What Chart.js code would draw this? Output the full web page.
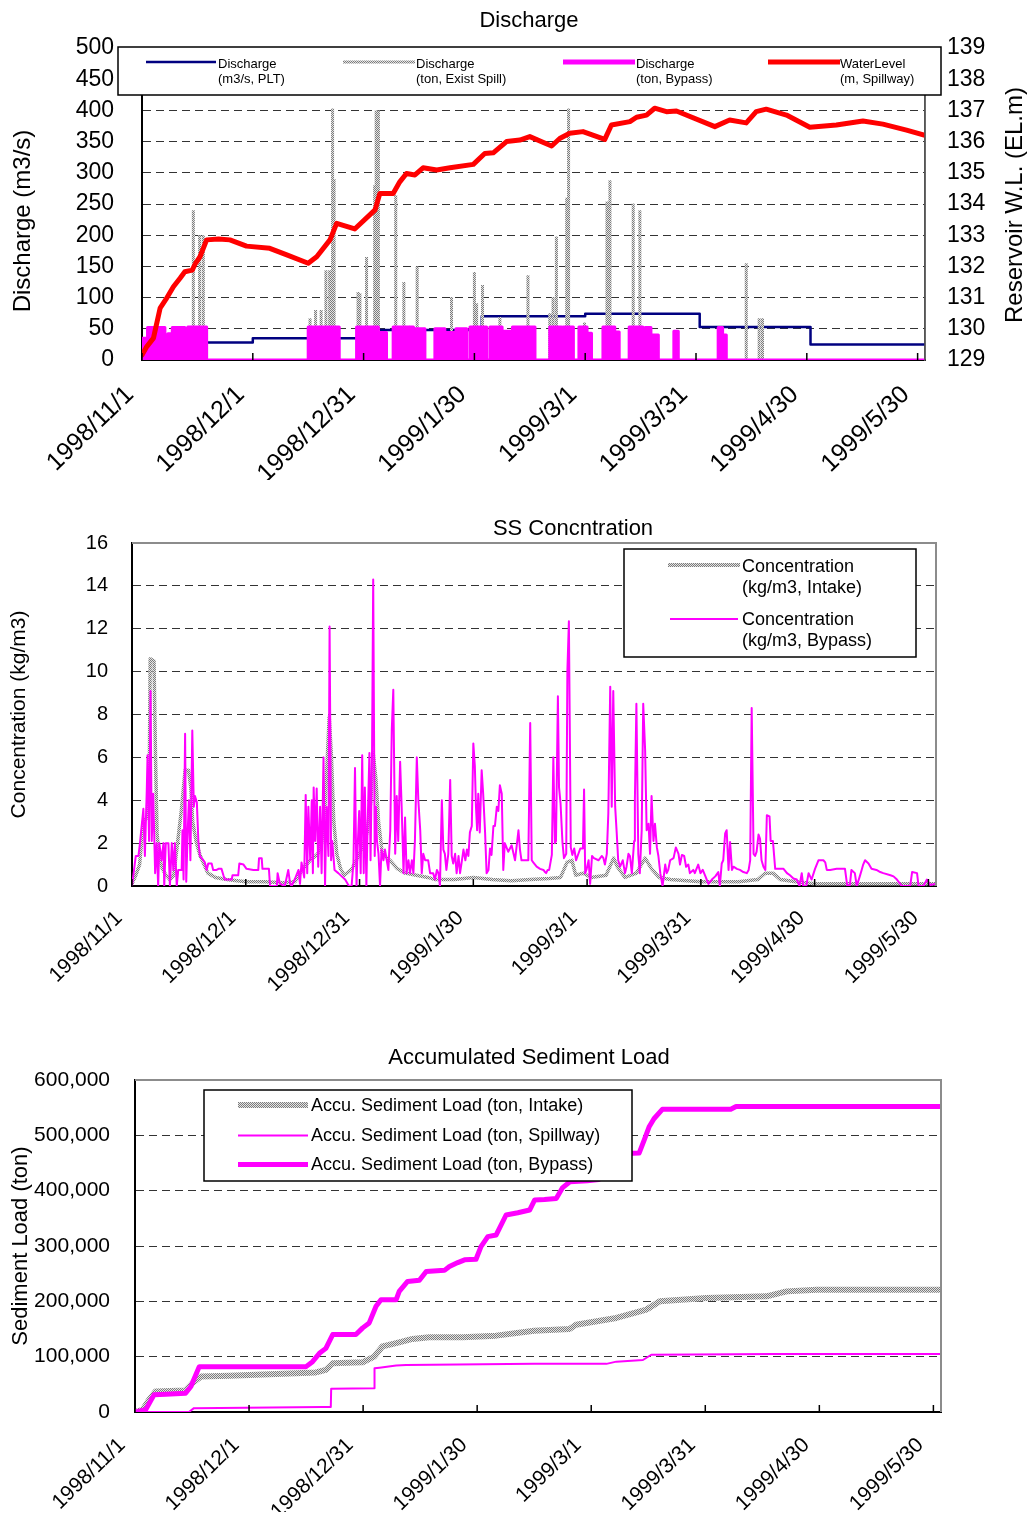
<!DOCTYPE html>
<html>
<head>
<meta charset="utf-8">
<title>Discharge / SS Concntration / Accumulated Sediment Load</title>
<script src="https://cdn.jsdelivr.net/npm/chart.js@4.4.1/dist/chart.umd.min.js"></script>
<style>
  html, body { margin: 0; padding: 0; background: #fff; }
  #page { position: relative; width: 1031px; height: 1526px; overflow: hidden; }
  #page canvas { position: absolute; left: 0; }
</style>
</head>
<body>
<div id="page">
  <canvas id="discharge" width="1031" height="500" style="top:0px"></canvas>
  <canvas id="concentration" width="1031" height="520" style="top:500px"></canvas>
  <canvas id="sediment" width="1031" height="506" style="top:1020px"></canvas>
</div>
<script>
// date axis is counted in days since 1998/11/1
const tickDays = [0, 30, 60, 90, 120, 150, 180, 210];
const tickLabels = ['1998/11/1', '1998/12/1', '1998/12/31', '1999/1/30', '1999/3/1', '1999/3/31', '1999/4/30', '1999/5/30'];
const lastDay = 212;

// --- Discharge panel: [day, value] ---
const pltFlow = [[0,28],[30,28],[30,35],[62,35],[62,48],[92,48],[92,70],[120,70],[120,74],[151,74],[151,53],[181,53],[181,25],[212,25]];
const spillFlow = [[13.9,240],[15.6,200],[16.6,200],[45.5,67],[47,80],[48.5,80],[49.8,144],[50.8,144],[51.6,403],[52.0,290],
  [58.5,109],[59,107],[60.8,165],[63.0,280],[63.4,400],[64.0,400],[68.7,264],[70.9,125],[74.5,150],[83.8,101],[90,141],[90.6,91],
  [92.2,120],[96.9,69],[104.5,136],[110.4,75],[111.3,101],[112.2,198],[115,260],[115.5,403],[119.8,60],[125.9,254],[126.7,288],
  [133,251],[134.8,240],[163.6,155],[167.1,67],[168,67]];
// bypass operation periods: [start day, end day, discharge]
const bypassRuns = [[0,1.5,35],[1.5,6.2,52],[7,8.2,42],[8.2,11.6,52],[12.4,17.5,53],[45,53.4,53],[58.1,64,53],[64,66.2,44],
  [68,72.3,53],[72.5,73.5,53],[74,76.6,50],[79.3,82,50],[82,85,44],[85,87.9,50],[88.8,93.3,53],[94.2,97.5,53],[97.5,100,46],
  [100.3,106.4,53],[110.4,113.6,53],[114,116.8,53],[118.3,120.5,53],[120.5,121.7,43],[124.8,128,53],[128,129.2,45],
  [131.9,135.6,53],[136.2,137.8,52],[137.8,139.8,40],[144,145.2,46],[156,157.2,52],[157.2,158.2,40]];
const waterLevel = [[0,129.16],[1.3,129.43],[3.1,129.7],[4.9,130.66],[6.5,130.95],[8.5,131.35],[10.3,131.62],[11.6,131.83],
  [13.6,131.88],[14.5,132.1],[15.7,132.31],[17.5,132.85],[20.7,132.88],[23.8,132.85],[28.3,132.65],[34.6,132.58],[39.2,132.37],
  [45,132.1],[47.3,132.31],[50.9,132.85],[52.7,133.38],[57.6,133.2],[63.1,133.81],[64.4,134.34],[68,134.34],[69.8,134.71],
  [71.6,134.98],[73.9,134.93],[76.1,135.16],[79.8,135.09],[83.4,135.16],[89.7,135.27],[92.8,135.62],[95.1,135.64],[98.7,136.0],
  [102.3,136.05],[105,136.16],[110.9,135.86],[113.1,136.1],[115.8,136.27],[119.4,136.32],[125.3,136.07],[127.1,136.53],
  [132.1,136.64],[133.9,136.78],[136.6,136.85],[138.8,137.07],[142,136.96],[144.7,136.98],[155.1,136.48],[159.1,136.69],
  [163.6,136.6],[166.3,136.96],[169,137.04],[174.5,136.85],[180.8,136.46],[188,136.53],[195.2,136.66],[200.6,136.56],
  [207,136.37],[212,136.2]];

// --- SS concentration panel: [day, kg/m3] ---
const concIntake = [[0,0.1],[1,0.5],[2,1],[3,3],[4,3.2],[4.6,6],[4.8,10.6],[5.8,10.5],[6.2,6],[6.6,2.5],[7,1.5],[8,0.8],[9,0.5],
  [10,0.3],[11,0.5],[12,2],[13,3.5],[14,5.4],[14.9,5.4],[15.5,4.6],[16,3],[17,2],[18,1.4],[19,1],[20,0.6],[22,0.4],[25,0.3],
  [30,0.2],[35,0.2],[40,0.15],[43,0.2],[45,0.8],[47,1.2],[49,1.5],[50,2],[51,4],[52,7.9],[52.6,6],[53.2,3],[54,1.5],[55,0.8],
  [56,0.5],[58,0.8],[60,1.5],[62,2.5],[63,4],[63.6,6.2],[64.3,5],[65,3],[66,1.5],[68,1.2],[70,0.8],[72,0.6],[75,0.5],[78,0.4],
  [80,0.3],[85,0.3],[90,0.4],[95,0.3],[100,0.25],[105,0.3],[110,0.35],[113,0.4],[114.7,1.1],[116,1.2],[117,0.5],[119,0.6],
  [121,0.4],[125,0.5],[127,1.3],[128,0.9],[130,0.4],[133,0.6],[135.3,1.3],[137,0.8],[139,0.4],[142,0.3],[150,0.2],[160,0.2],
  [165,0.3],[167,0.6],[169,0.6],[171,0.3],[175,0.2],[180,0.1],[190,0.1],[200,0.1],[212,0.1]];
const concBypass = [[0,0],[0.2,0],[1.0,1.4],[1.7,1.4],[2.1,2.0],[3.0,3.6],[3.4,1.4],[3.9,4.5],[4.1,6.1],[4.5,2.1],[4.9,9.1],
  [5.2,2.1],[5.6,4.3],[6.1,0.6],[6.5,2.0],[6.9,0],[7.2,2.0],[7.8,1.2],[8.3,2.0],[8.5,0],[8.9,2.0],[9.6,2.0],[10,0],[10.5,2.0],
  [10.9,0.75],[11.3,2.0],[11.8,0],[12.2,0.75],[13.1,0.75],[13.3,2.6],[13.6,0.3],[14.0,7.1],[14.3,0.2],[14.7,2.6],[15.0,4.0],
  [15.4,1.2],[15.9,7.25],[16.3,3.7],[16.6,4.2],[17.1,3.9],[17.5,2.1],[17.9,1.4],[18.4,1.3],[19.2,1.1],[19.7,0.75],[20.1,1.05],
  [21,1.05],[21.4,0.75],[22.3,0.75],[22.8,0.8],[23.6,0.8],[24.1,0.5],[24.5,0.3],[26.3,0.3],[26.5,0.5],[28,0.5],[28.3,1.05],
  [29.4,1.0],[30.2,0.8],[32,0.75],[33.3,0.75],[33.5,1.3],[34.2,1.3],[34.4,0.8],[36.1,0.8],[36.4,0],[38.2,0],[38.4,0.6],[39,0.1],
  [40.3,0],[41.2,0.75],[41.7,0.1],[42.1,0],[43,0.35],[43.9,0.75],[44.3,0.1],[44.7,1.1],[45.4,0.4],[45.8,4.25],[46.2,0.6],
  [46.5,3.7],[47,1.2],[47.4,4.0],[47.7,0.6],[47.9,4.6],[48.3,2.1],[48.7,4.55],[49.1,0.9],[49.6,3.7],[50,0.6],[50.5,6.0],[50.9,0],
  [51.3,3.7],[51.8,1.4],[52.1,12.1],[52.5,1.2],[52.8,2.1],[53.4,0.75],[54.4,0.6],[55.3,0.45],[56.2,0.3],[57.2,0],[57.9,0],
  [58.4,1.1],[58.8,5.5],[59.2,0],[59.5,1.8],[59.9,3.5],[60.3,0.6],[60.7,6.1],[61.1,0.6],[61.4,4.6],[61.8,0],[62.1,2.6],[62.6,6.2],
  [62.9,1.2],[63.3,6.35],[63.6,14.3],[64,1.4],[64.3,3.7],[64.6,2.1],[65,1.5],[65.4,0],[65.8,1.7],[66.3,1.2],[66.7,1.7],[67.6,0.75],
  [68.1,2.6],[68.5,7.3],[68.9,9.15],[69.4,1.5],[69.8,4.2],[70.2,2.1],[70.7,5.8],[71.1,3.7],[71.6,0.6],[72,3.2],[72.4,0.6],
  [72.9,1.2],[73.3,0.6],[73.8,1.2],[74.2,0.6],[74.6,2.1],[75.1,6.0],[75.5,4.0],[76,2.6],[76.4,0.6],[76.8,1.5],[77.3,1.2],
  [78.1,1.2],[78.6,0.6],[79.4,0.6],[79.9,0.3],[80.4,0.75],[80.8,0.6],[81.2,0],[81.7,4.0],[82.1,1.7],[82.5,1.5],[82.9,0.75],
  [83.4,1.5],[83.9,4.95],[84.3,1.4],[84.7,1.05],[85.2,1.5],[85.6,0.6],[86.1,1.4],[86.5,0.6],[87,1.2],[87.4,1.7],[87.9,1.2],
  [88.3,1.7],[88.7,1.4],[89.1,2.5],[89.6,2.8],[90,6.65],[90.4,5.6],[90.7,3.7],[91,2.6],[91.3,4.3],[91.7,2.5],[92.2,5.4],
  [92.6,4.3],[93.1,2.5],[93.5,0.6],[94,0.75],[94.4,1.75],[94.8,1.45],[95.3,2.8],[95.7,2.8],[96.2,3.7],[96.6,3.5],[97,4.7],
  [97.5,4.3],[97.9,0.75],[98.3,2.0],[99.2,1.6],[100.1,1.9],[101,1.2],[101.9,2.6],[102.3,1.7],[102.7,1.2],[103.6,1.2],[104.5,1.2],
  [105,7.6],[105.4,1.2],[105.8,1.1],[106.7,0.9],[107.6,0.8],[108.5,0.75],[108.9,0.65],[109.2,0.6],[109.6,0.75],[110,0.75],
  [110.7,1.45],[111.1,6.0],[111.5,2.0],[111.8,2.1],[112.3,8.85],[112.6,4.6],[113,3.85],[113.5,2.05],[113.9,1.3],[114.5,1.5],
  [114.8,10.0],[115.2,12.35],[115.7,1.8],[116.1,1.45],[116.6,1.75],[117.1,1.2],[118.2,1.75],[118.9,1.75],[119.2,4.5],[119.5,0.6],
  [119.9,0.8],[120.4,1.2],[120.8,0.1],[121.3,1.4],[121.8,1.3],[123,1.2],[123.9,1.4],[124.3,1.3],[124.7,1.0],[125.2,1.5],
  [125.6,3.4],[126.1,9.3],[126.5,3.7],[126.9,9.1],[127.4,3.7],[127.8,2.5],[128.2,1.2],[128.7,0.9],[129.4,1.2],[130,0.6],
  [130.4,0.9],[130.9,1.5],[131.3,1.4],[131.8,0.6],[132.4,2.1],[132.6,4.0],[133,8.5],[133.5,1.5],[133.9,0.6],[134.4,2.6],
  [134.8,8.5],[135.3,6.35],[135.7,2.6],[136.2,2.9],[136.6,1.5],[137,4.2],[137.5,2.1],[137.9,2.9],[138.4,1.8],[138.8,1.4],
  [139.3,0.6],[139.9,0],[140.6,1.0],[141,0.6],[141.4,0.75],[141.9,1.2],[142.8,1.3],[143.4,1.8],[144.1,1.5],[144.5,1.0],
  [145,1.45],[145.6,1.4],[146.1,0.9],[146.7,1.0],[147.1,0.6],[148,0.75],[148.4,0.6],[149.3,1.0],[149.9,0.6],[150.5,0.75],
  [151.1,0.5],[152,0.1],[152.9,0.3],[153.8,0.45],[154.6,0.65],[155,0],[155.5,1.05],[155.9,1.2],[156.4,2.45],[156.8,2.6],
  [157.3,0.75],[157.7,2.05],[158.2,0.75],[158.6,0.9],[159.5,0.8],[160.3,0.75],[161.2,0.65],[162.1,0.6],[162.6,0.75],[163,1.2],
  [163.4,8.3],[163.9,1.5],[164.3,1.4],[164.7,1.6],[165.2,2.4],[165.6,2.2],[166,1.2],[166.5,0.9],[167,0.75],[167.4,3.3],
  [168.1,3.25],[168.4,2.1],[169,2.1],[169.6,0.8],[170.5,0.8],[171.8,0.8],[172.7,0.6],[173.5,0.5],[174.4,0.35],[175.3,0.3],
  [176,0],[176.6,0.6],[177,0],[177.8,0],[178.4,0.6],[179.2,0.3],[180.1,0.8],[181,1.2],[182.3,1.2],[182.8,1.1],[183.2,0.75],
  [184.1,0.75],[185.8,0.8],[188,0.8],[188.6,0],[189.3,0.05],[189.7,0.75],[190.6,0.6],[191.1,0],[191.9,0.45],[192.4,0.75],
  [192.8,1.0],[193.3,1.2],[194.2,1.05],[195,0.8],[196.3,0.75],[197.3,0.65],[198.1,0.6],[200,0.5],[200.8,0.45],[201.7,0.3],
  [203,0],[205.2,0],[205.7,0.65],[207,0.6],[207.4,0],[208.7,0],[209.6,0.3],[210.5,0.05],[211.8,0.1]];

// --- Accumulated sediment load panel: [day, ton] ---
const accIntake = [[0,0],[2,4000],[3.7,22000],[5.4,37000],[13.3,39000],[15.1,52000],[17.3,64000],[24.8,65500],[47.6,71600],
  [50.2,76000],[52,88000],[59.9,90000],[62.9,100000],[65.1,118500],[68.7,124500],[73,132000],[77.4,135000],[86.2,135000],
  [95,138000],[105,147000],[114.3,150000],[116,157600],[126.6,170000],[134.5,185000],[138,200000],[150.3,206000],
  [166.1,209000],[171.4,218000],[179.3,221000],[212,221000]];
const accSpillway = [[0,0],[14.2,0],[15.5,7000],[49.3,9000],[51.5,9000],[51.6,42000],[62.9,43000],[63,79000],[64.3,80000],
  [68.7,84000],[71.3,85000],[105,87000],[124,87000],[126.6,91000],[133.6,94000],[135.8,103500],[167.9,105000],[212,105000]];
const accBypass = [[0,0],[2.8,4000],[5,31000],[8.1,32000],[13.3,34000],[14.7,46000],[16.9,82000],[45,82000],[46.7,91000],
  [48.5,106000],[50.2,115000],[52,140000],[58.1,140000],[59.9,152000],[61.6,161000],[63.4,191000],[64.7,203000],[68.7,203000],
  [69.5,218000],[71.7,236000],[74.8,238000],[76.6,254000],[81.4,256000],[82.7,263000],[84.9,270000],[86.7,275000],
  [89.7,276000],[91,299000],[92.8,317000],[95,320000],[97.6,356000],[100.7,360000],[103.8,365000],[105.1,383000],
  [107.7,384000],[110.8,386000],[112.4,405000],[114.4,416000],[119,418000],[122,420000],[126,440000],[129.5,467000],
  [132.6,468000],[133.9,491000],[135.2,515000],[136.5,530000],[138.7,547000],[156.7,547000],[158.1,552000],[212,552000]];

const FONT = "'Liberation Sans', Arial, sans-serif";
const NAVY = '#000080', RED = '#ff0000', MAGENTA = '#ff00ff';
Chart.defaults.font.family = FONT;
Chart.defaults.color = '#000';

// dotted grey texture used for the intake / spill series
function stipple() {
  const c = document.createElement('canvas');
  c.width = 2; c.height = 2;
  const g = c.getContext('2d');
  g.fillStyle = '#e4e4e4'; g.fillRect(0, 0, 2, 2);
  g.fillStyle = '#7c7c7c'; g.fillRect(0, 0, 1, 1); g.fillRect(1, 1, 1, 1);
  return g.createPattern(c, 'repeat');
}
const GRAY = stipple();

const toXY = arr => arr.map(([x, y]) => ({x, y}));

const spillPoints = [];
spillFlow.forEach(([d, v]) => { spillPoints.push({x: d, y: 0}, {x: d, y: v}, {x: d, y: null}); });

const bypassPoints = [{x: 0, y: 0}];
bypassRuns.forEach(([s, e, v]) => { bypassPoints.push({x: s, y: 0}, {x: s, y: v}, {x: e, y: v}, {x: e, y: 0}); });
bypassPoints.push({x: lastDay, y: 0});

// title, frame, inner tick marks, upright axis titles and the boxed legend
const panelDecor = {
  id: 'panelDecor',
  afterDraw(chart, args, o) {
    const ctx = chart.ctx, a = chart.chartArea, xs = chart.scales.x;
    ctx.save();
    ctx.strokeStyle = o.frameColor;
    ctx.lineWidth = o.frameWidth;
    ctx.beginPath();
    ctx.moveTo(a.left, a.top); ctx.lineTo(a.right, a.top); ctx.lineTo(a.right, a.bottom);
    ctx.stroke();

    ctx.strokeStyle = '#000';
    ctx.lineWidth = 1.5;
    xs.ticks.forEach(t => {
      const px = xs.getPixelForValue(t.value);
      ctx.beginPath(); ctx.moveTo(px, a.bottom); ctx.lineTo(px, a.bottom - 7); ctx.stroke();
    });

    const lg = o.legend;
    const [bx, by, bw, bh] = lg.box;
    ctx.fillStyle = '#fff';
    ctx.fillRect(bx, by, bw, bh);
    ctx.strokeStyle = '#000';
    ctx.lineWidth = 1.5;
    ctx.strokeRect(bx, by, bw, bh);
    ctx.font = lg.size + 'px ' + FONT;
    ctx.textBaseline = 'middle';
    ctx.textAlign = 'left';
    lg.items.forEach(it => {
      const ds = chart.data.datasets[it.ds];
      ctx.strokeStyle = ds.borderColor;
      ctx.lineWidth = it.width;
      ctx.beginPath(); ctx.moveTo(it.x, it.y); ctx.lineTo(it.x + it.len, it.y); ctx.stroke();
      const lines = lg.split ? ds.label.split(/ (?=\()/) : [ds.label];
      ctx.fillStyle = '#000';
      lines.forEach((s, k) => ctx.fillText(s, it.tx, it.ty + k * lg.gap));
    });

    ctx.textAlign = 'center';
    ctx.fillStyle = '#000';
    (o.axisTitles || []).forEach(t => {
      ctx.save();
      ctx.translate(t.x, t.y);
      ctx.rotate(-Math.PI / 2);
      ctx.font = t.size + 'px ' + FONT;
      ctx.fillText(t.text, 0, 0);
      ctx.restore();
    });

    ctx.font = o.titleSize + 'px ' + FONT;
    ctx.fillText(o.title, o.titleX, o.titleY);
    ctx.restore();
  }
};

function dayAxis(size, pad, shift, height) {
  return {
    type: 'linear', min: 0, max: lastDay,
    afterBuildTicks: s => { s.ticks = tickDays.map(v => ({value: v})); },
    afterFit: s => { s.height = height; },
    ticks: { autoSkip: false, minRotation: 44, maxRotation: 44, padding: pad, labelOffset: shift, font: {size},
             callback: (v, i) => tickLabels[i] },
    grid: { display: false },
    border: { color: '#000', width: 2 }
  };
}

function valueGrid() {
  return { color: '#333', lineWidth: 1, drawTicks: false };
}

const base = {
  responsive: false, animation: false, devicePixelRatio: 1,
  elements: { point: { radius: 0 }, line: { tension: 0, borderJoinStyle: 'round' } },
};

new Chart(document.getElementById('discharge'), {
  type: 'line',
  data: { datasets: [
    { label: 'Discharge (m3/s, PLT)', data: toXY(pltFlow), borderColor: NAVY, borderWidth: 2.5, order: 3 },
    { label: 'Discharge (ton, Exist Spill)', data: spillPoints, borderColor: GRAY, borderWidth: 3, order: 2 },
    { label: 'Discharge (ton, Bypass)', data: bypassPoints, borderColor: MAGENTA, backgroundColor: MAGENTA, borderWidth: 3, fill: 'origin', order: 1 },
    { label: 'WaterLevel (m, Spillway)', data: toXY(waterLevel), borderColor: RED, borderWidth: 5, borderCapStyle: 'round', yAxisID: 'y1', order: 0 }
  ]},
  options: { ...base,
    layout: { padding: { top: 48, left: 0, right: 0, bottom: 20 } },
    plugins: {
      legend: { display: false }, tooltip: { enabled: false },
      panelDecor: {
        title: 'Discharge', titleX: 529, titleY: 21, titleSize: 22,
        frameColor: '#555', frameWidth: 1.5,
        axisTitles: [
          { text: 'Discharge (m3/s)', x: 23, y: 221, size: 24 },
          { text: 'Reservoir W.L. (EL.m)', x: 1015, y: 205, size: 24 }
        ],
        legend: { box: [118, 47, 823, 48], size: 13, gap: 15.5, split: true, items: [
          { ds: 0, x: 146, y: 62, len: 70, width: 2.5, tx: 218, ty: 64 },
          { ds: 1, x: 343, y: 62, len: 72, width: 3, tx: 416, ty: 64 },
          { ds: 2, x: 563, y: 62, len: 72, width: 5, tx: 636, ty: 64 },
          { ds: 3, x: 768, y: 62, len: 72, width: 5, tx: 840, ty: 64 }
        ]}
      }
    },
    scales: {
      x: dayAxis(25, 12, -12, 120),
      y: {
        position: 'left', min: 0, max: 500,
        ticks: { stepSize: 50, padding: 28, font: {size: 23} },
        afterFit: s => { s.width = 142; },
        grid: valueGrid(),
        border: { color: '#000', width: 2, dash: [8, 5] }
      },
      y1: {
        position: 'right', min: 129, max: 139,
        ticks: { stepSize: 1, padding: 22, font: {size: 23} },
        afterFit: s => { s.width = 106; },
        grid: { drawOnChartArea: false, drawTicks: false },
        border: { color: '#555', width: 1.5 }
      }
    }
  },
  plugins: [panelDecor]
});

new Chart(document.getElementById('concentration'), {
  type: 'line',
  data: { datasets: [
    { label: 'Concentration (kg/m3, Intake)', data: toXY(concIntake), borderColor: GRAY, borderWidth: 3.5, order: 1 },
    { label: 'Concentration (kg/m3, Bypass)', data: toXY(concBypass), borderColor: MAGENTA, borderWidth: 2, order: 0 }
  ]},
  options: { ...base,
    layout: { padding: { top: 43, left: 0, right: 95, bottom: 14 } },
    plugins: {
      legend: { display: false }, tooltip: { enabled: false },
      panelDecor: {
        title: 'SS Concntration', titleX: 573, titleY: 29, titleSize: 22,
        frameColor: '#8c8c8c', frameWidth: 2,
        legend: { box: [624, 49, 292, 108], size: 18, gap: 21, split: true, items: [
          { ds: 0, x: 668, y: 65, len: 72, width: 4, tx: 742, ty: 67 },
          { ds: 1, x: 670, y: 119, len: 68, width: 2, tx: 742, ty: 120 }
        ]}
      }
    },
    scales: {
      x: dayAxis(21, 12, -13, 120),
      y: {
        min: 0, max: 16,
        ticks: { stepSize: 2, padding: 24, font: {size: 20} },
        afterFit: s => { s.width = 132; },
        grid: valueGrid(),
        border: { color: '#000', width: 2, dash: [8, 5] },
        title: { display: true, text: 'Concentration (kg/m3)', font: {size: 21}, padding: {top: 7, bottom: 0} }
      }
    }
  },
  plugins: [panelDecor]
});

new Chart(document.getElementById('sediment'), {
  type: 'line',
  data: { datasets: [
    { label: 'Accu. Sediment Load (ton, Intake)', data: toXY(accIntake), borderColor: GRAY, borderWidth: 6, order: 2 },
    { label: 'Accu. Sediment Load (ton, Spillway)', data: toXY(accSpillway), borderColor: MAGENTA, borderWidth: 2, order: 1 },
    { label: 'Accu. Sediment Load (ton, Bypass)', data: toXY(accBypass), borderColor: MAGENTA, borderWidth: 5, order: 0 }
  ]},
  options: { ...base,
    layout: { padding: { top: 60, left: 0, right: 90, bottom: 14 } },
    plugins: {
      legend: { display: false }, tooltip: { enabled: false },
      panelDecor: {
        title: 'Accumulated Sediment Load', titleX: 529, titleY: 38, titleSize: 22,
        frameColor: '#8c8c8c', frameWidth: 2,
        legend: { box: [204, 70, 428, 91], size: 18, gap: 0, split: false, items: [
          { ds: 0, x: 238, y: 85, len: 70, width: 6, tx: 311, ty: 86 },
          { ds: 1, x: 238, y: 115.5, len: 70, width: 2, tx: 311, ty: 116 },
          { ds: 2, x: 238, y: 144.5, len: 70, width: 5, tx: 311, ty: 145 }
        ]}
      }
    },
    scales: {
      x: dayAxis(21, 13, -13, 100),
      y: {
        min: 0, max: 600000,
        ticks: { stepSize: 100000, padding: 25, font: {size: 21}, callback: v => v.toLocaleString('en-US') },
        afterFit: s => { s.width = 135; },
        grid: valueGrid(),
        border: { color: '#000', width: 2, dash: [8, 5] },
        title: { display: true, text: 'Sediment Load (ton)', font: {size: 22}, padding: {top: 8, bottom: 0} }
      }
    }
  },
  plugins: [panelDecor]
});
</script>
</body>
</html>
